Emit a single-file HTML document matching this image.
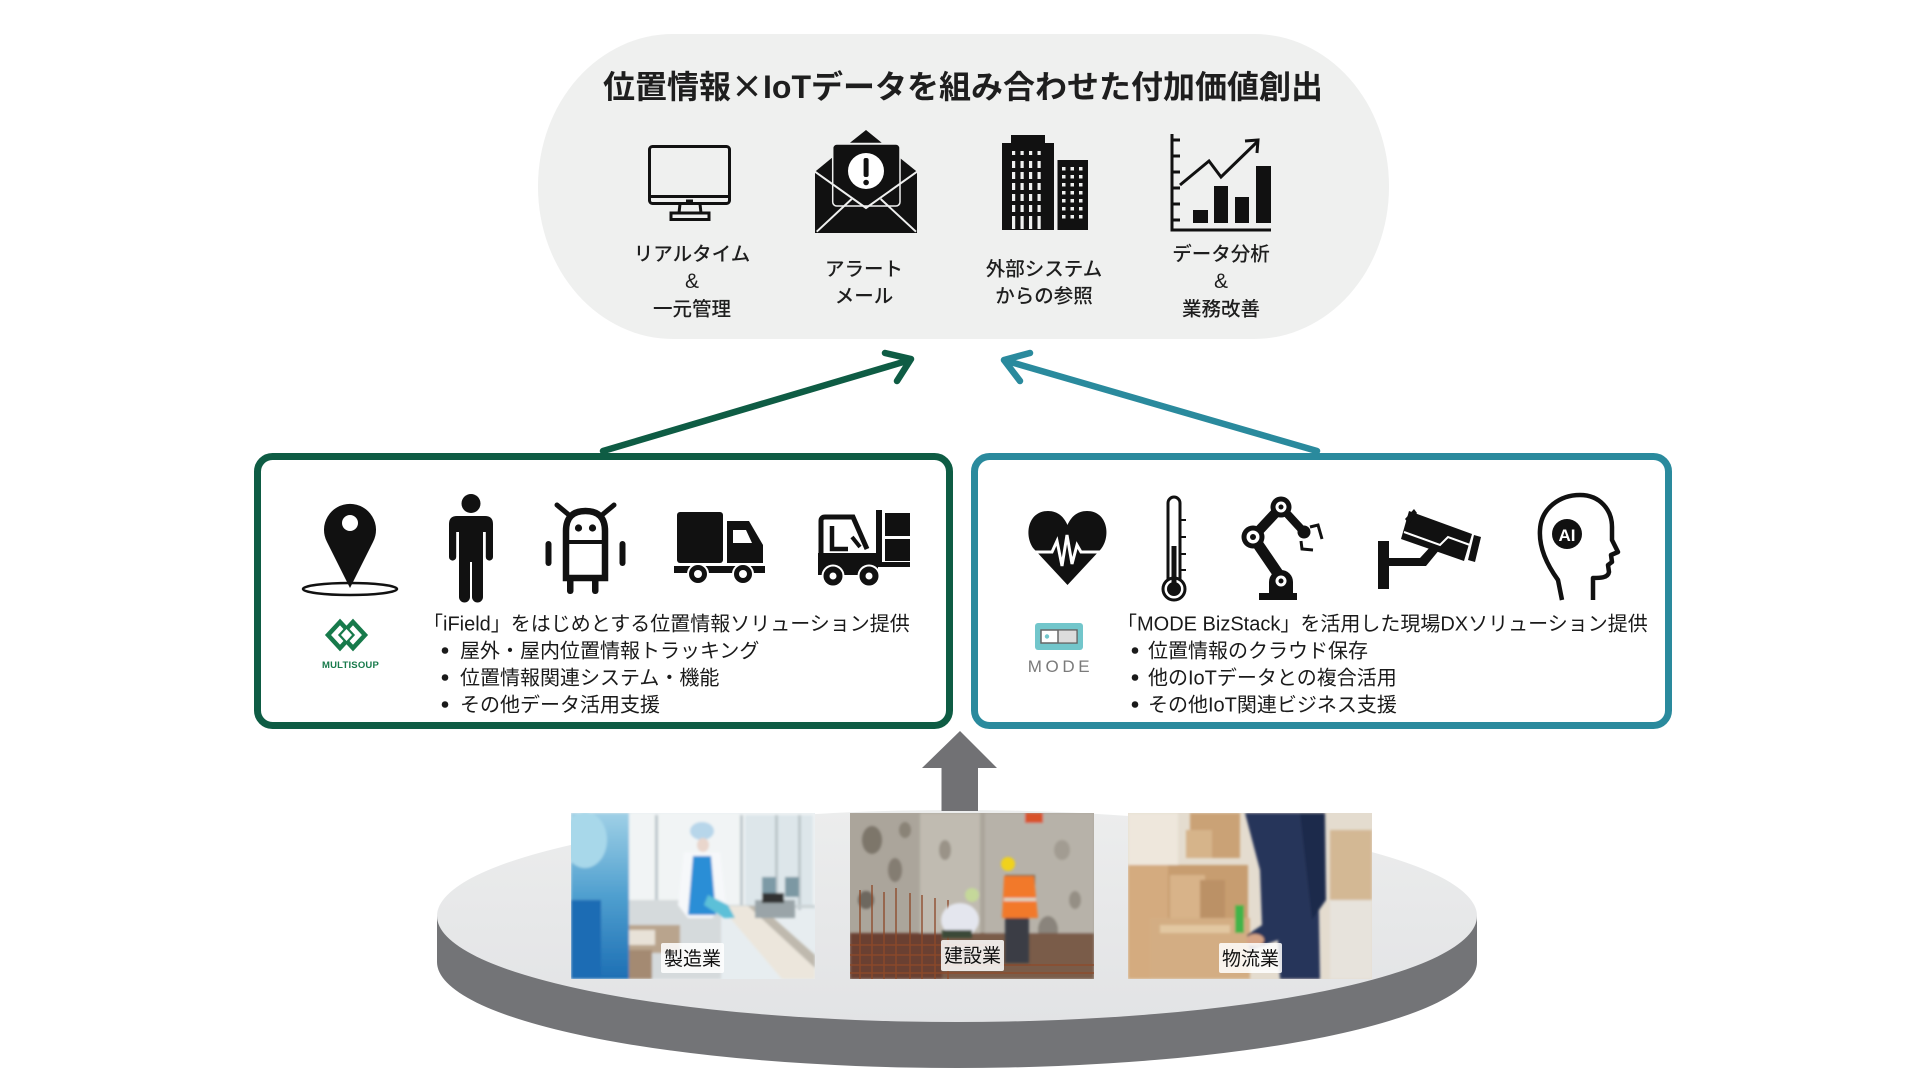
<!DOCTYPE html>
<html><head><meta charset="utf-8">
<style>
html,body{margin:0;padding:0;background:#fff;width:1920px;height:1080px;overflow:hidden;}
svg{display:block;}
text{font-family:"Liberation Sans","Noto Sans CJK JP",sans-serif;}
.cjk{font-family:"Noto Sans CJK JP",sans-serif;}
</style></head><body>
<svg width="1920" height="1080" viewBox="0 0 1920 1080" xmlns="http://www.w3.org/2000/svg">
<defs>
  <filter id="bl" x="-5%" y="-5%" width="110%" height="110%"><feGaussianBlur stdDeviation="1.4"/></filter>
  <clipPath id="c1"><rect x="571" y="813" width="244" height="166"/></clipPath>
  <clipPath id="c2"><rect x="850" y="813" width="244" height="166"/></clipPath>
  <clipPath id="c3"><rect x="1128" y="813" width="244" height="166"/></clipPath>
  <linearGradient id="plat" x1="0" y1="0" x2="0" y2="1">
    <stop offset="0" stop-color="#eceded"/><stop offset="1" stop-color="#e2e3e5"/>
  </linearGradient>
  <linearGradient id="blueF" x1="0" y1="0" x2="0" y2="1">
    <stop offset="0" stop-color="#9fd0e6"/><stop offset="0.5" stop-color="#4f9fcf"/><stop offset="1" stop-color="#1d6fb4"/>
  </linearGradient>
</defs>

<!-- top pill -->
<rect x="538" y="34" width="851" height="305" rx="135" ry="152" fill="#eff0ef"/>
<text x="963" y="98" font-size="32" font-weight="700" fill="#1e1e1e" text-anchor="middle">位置情報<tspan class="cjk">×</tspan>IoTデータを組み合わせた付加価値創出</text>

<!-- monitor -->
<g fill="none" stroke="#111" stroke-width="3">
  <rect x="649.5" y="146.5" width="80" height="57" rx="3"/>
  <line x1="649.5" y1="196.5" x2="729.5" y2="196.5"/>
  <path d="M680,204 L679,213 L701,213 L700,204"/>
  <rect x="671" y="213" width="38" height="6.5"/>
</g>
<rect x="686" y="199.5" width="7" height="2.5" fill="#111"/>

<!-- envelope -->
<polygon points="850,142.7 866,130 881.7,142.7" fill="#111"/>
<polygon points="815,171.7 831.7,158 900,158 917,171.7 917,233 815,233" fill="#111"/>
<rect x="832.7" y="144" width="67.3" height="62" rx="4" fill="#111" stroke="#eff0ef" stroke-width="1.5"/>
<circle cx="866" cy="171" r="18" fill="#fff"/>
<rect x="863.6" y="158" width="5" height="19" rx="2" fill="#111"/>
<circle cx="866.1" cy="182.5" r="2.8" fill="#111"/>
<polyline points="815,171.7 866,208 917,171.7" fill="none" stroke="#eff0ef" stroke-width="2"/>
<line x1="816.7" y1="231.7" x2="851.7" y2="199" stroke="#eff0ef" stroke-width="2"/>
<line x1="916" y1="231.7" x2="880.7" y2="199" stroke="#eff0ef" stroke-width="2"/>

<!-- buildings -->
<rect x="1011" y="135" width="34" height="10" fill="#111"/>
<rect x="1002" y="143" width="52" height="87" fill="#111"/>
<rect x="1057.5" y="160" width="30.5" height="70" fill="#111"/>
<g fill="#eff0ef">
  <g>
    <rect x="1012" y="151" width="3.2" height="4"/><rect x="1020.5" y="151" width="3.2" height="4"/><rect x="1029" y="151" width="3.2" height="4"/><rect x="1037.5" y="151" width="3.2" height="4"/>
    <rect x="1012" y="161" width="3.2" height="7"/><rect x="1020.5" y="161" width="3.2" height="7"/><rect x="1029" y="161" width="3.2" height="7"/><rect x="1037.5" y="161" width="3.2" height="7"/>
    <rect x="1012" y="172" width="3.2" height="7"/><rect x="1020.5" y="172" width="3.2" height="7"/><rect x="1029" y="172" width="3.2" height="7"/><rect x="1037.5" y="172" width="3.2" height="7"/>
    <rect x="1012" y="183" width="3.2" height="7"/><rect x="1020.5" y="183" width="3.2" height="7"/><rect x="1029" y="183" width="3.2" height="7"/><rect x="1037.5" y="183" width="3.2" height="7"/>
    <rect x="1012" y="194" width="3.2" height="7"/><rect x="1020.5" y="194" width="3.2" height="7"/><rect x="1029" y="194" width="3.2" height="7"/><rect x="1037.5" y="194" width="3.2" height="7"/>
    <rect x="1012" y="205" width="3.2" height="7"/><rect x="1020.5" y="205" width="3.2" height="7"/><rect x="1029" y="205" width="3.2" height="7"/><rect x="1037.5" y="205" width="3.2" height="7"/>
    <rect x="1012" y="216" width="3.2" height="13"/><rect x="1020.5" y="216" width="3.2" height="13"/><rect x="1029" y="216" width="3.2" height="13"/><rect x="1037.5" y="216" width="3.2" height="13"/>
  </g>
  <g>
    <rect x="1062" y="167" width="3.5" height="3.5"/><rect x="1070.5" y="167" width="3.5" height="3.5"/><rect x="1079" y="167" width="3.5" height="3.5"/>
    <rect x="1062" y="175" width="3.5" height="3.5"/><rect x="1070.5" y="175" width="3.5" height="3.5"/><rect x="1079" y="175" width="3.5" height="3.5"/>
    <rect x="1062" y="183" width="3.5" height="3.5"/><rect x="1070.5" y="183" width="3.5" height="3.5"/><rect x="1079" y="183" width="3.5" height="3.5"/>
    <rect x="1062" y="191" width="3.5" height="3.5"/><rect x="1070.5" y="191" width="3.5" height="3.5"/><rect x="1079" y="191" width="3.5" height="3.5"/>
    <rect x="1062" y="199" width="3.5" height="3.5"/><rect x="1070.5" y="199" width="3.5" height="3.5"/><rect x="1079" y="199" width="3.5" height="3.5"/>
    <rect x="1062" y="207" width="3.5" height="3.5"/><rect x="1070.5" y="207" width="3.5" height="3.5"/><rect x="1079" y="207" width="3.5" height="3.5"/>
    <rect x="1062" y="215" width="3.5" height="3.5"/><rect x="1070.5" y="215" width="3.5" height="3.5"/><rect x="1079" y="215" width="3.5" height="3.5"/>
  </g>
</g>

<!-- chart -->
<g stroke="#111" fill="none" stroke-width="3">
  <polyline points="1172,134 1172,230 1271,230"/>
  <line x1="1172" y1="140" x2="1180" y2="140"/><line x1="1172" y1="156" x2="1180" y2="156"/>
  <line x1="1172" y1="172" x2="1180" y2="172"/><line x1="1172" y1="188" x2="1180" y2="188"/>
  <line x1="1172" y1="204" x2="1180" y2="204"/><line x1="1172" y1="220" x2="1180" y2="220"/>
  <polyline points="1180,185 1209,161 1221,177 1257,142"/>
  <polyline points="1245,141 1258,140 1257,153"/>
</g>
<g fill="#111">
  <rect x="1193" y="210" width="15" height="13"/>
  <rect x="1214" y="186" width="14" height="37"/>
  <rect x="1235" y="197" width="14" height="26"/>
  <rect x="1256" y="166" width="15" height="57"/>
</g>

<!-- top labels -->
<g font-size="19.5" font-weight="500" fill="#1e1e1e" text-anchor="middle">
  <text x="692" y="260.4">リアルタイム</text>
  <text x="692" y="288" font-size="21">&amp;</text>
  <text x="692" y="315.4">一元管理</text>
  <text x="864" y="275.4">アラート</text>
  <text x="864" y="302.4">メール</text>
  <text x="1044" y="275.4">外部システム</text>
  <text x="1044" y="302.4">からの参照</text>
  <text x="1221" y="260.4">データ分析</text>
  <text x="1221" y="288" font-size="21">&amp;</text>
  <text x="1221" y="315.4">業務改善</text>
</g>

<!-- arrows up -->
<g fill="none" stroke="#0e5c44" stroke-width="6.5" stroke-linecap="round" stroke-linejoin="round">
  <line x1="603" y1="451" x2="910" y2="360"/>
  <polyline points="885,353 911,359 897,381"/>
</g>
<g fill="none" stroke="#2a8a9d" stroke-width="6.5" stroke-linecap="round" stroke-linejoin="round">
  <line x1="1317" y1="451" x2="1007" y2="361"/>
  <polyline points="1030,353 1004,360 1020,381"/>
</g>

<!-- boxes -->
<rect x="257.5" y="456.5" width="692" height="269" rx="15" fill="#fff" stroke="#0e5c44" stroke-width="7"/>
<rect x="974.5" y="456.5" width="694" height="269" rx="15" fill="#fff" stroke="#2a8a9d" stroke-width="7"/>

<!-- green icons -->
<ellipse cx="350" cy="589" rx="47" ry="6" fill="none" stroke="#111" stroke-width="2.5"/>
<path d="M350,588 L327,542 A26,26 0 1 1 373,542 Z" fill="#111"/>
<circle cx="350" cy="523" r="8" fill="#fff"/>

<circle cx="471" cy="503.5" r="9.5" fill="#111"/>
<path d="M449,524 Q449,516 457,516 L485,516 Q493,516 493,524 L493,557 a3.6,3.6 0 0 1 -7.2,0 L485.8,532 L483,532 L483,597 a5.5,5.5 0 0 1 -11,0 L472,562 L470,562 L470,597 a5.5,5.5 0 0 1 -11,0 L459,532 L456.2,532 L456.2,557 a3.6,3.6 0 0 1 -7.2,0 Z" fill="#111"/>

<g stroke="#111" stroke-linecap="round">
  <line x1="557" y1="505" x2="569" y2="515" stroke-width="5"/>
  <line x1="614" y1="505" x2="602" y2="515" stroke-width="5"/>
</g>
<path d="M566,578 L566,531 Q566,511 585.5,511 Q605,511 605,531 L605,578 Z" fill="none" stroke="#111" stroke-width="6.5"/>
<line x1="566" y1="542" x2="605" y2="542" stroke="#111" stroke-width="4"/>
<circle cx="578.5" cy="528" r="3.6" fill="#111"/><circle cx="592.5" cy="528" r="3.6" fill="#111"/>
<rect x="545.5" y="541" width="6" height="25" rx="3" fill="#111"/>
<rect x="619.5" y="541" width="6" height="25" rx="3" fill="#111"/>
<rect x="567" y="578" width="6.5" height="16" rx="3" fill="#111"/>
<rect x="592" y="578" width="6.5" height="16" rx="3" fill="#111"/>

<rect x="677" y="512" width="46" height="51" rx="3" fill="#111"/>
<path d="M727,521 L749,521 L763,545 L763,563 L727,563 Z" fill="#111"/>
<path d="M733,530 L746,530 L752,543 L733,543 Z" fill="#fff"/>
<rect x="674" y="566" width="91" height="7" fill="#111"/>
<circle cx="698" cy="574" r="10" fill="#111" stroke="#fff" stroke-width="2"/><circle cx="698" cy="574" r="4" fill="#fff"/>
<circle cx="743" cy="574" r="10" fill="#111" stroke="#fff" stroke-width="2"/><circle cx="743" cy="574" r="4" fill="#fff"/>

<rect x="885" y="513" width="25" height="23" fill="#111"/>
<rect x="885" y="539" width="25" height="22" fill="#111"/>
<rect x="876" y="510" width="6" height="57" fill="#111"/>
<rect x="876" y="562" width="34" height="5" fill="#111"/>
<path d="M821,555 L821,521 Q821,517 825,517 L853,517 L867,549" fill="none" stroke="#111" stroke-width="5"/>
<path d="M832,526 L832,549 L848,549" fill="none" stroke="#111" stroke-width="4.5"/>
<line x1="852" y1="537" x2="860" y2="547" stroke="#111" stroke-width="4"/>
<rect x="818" y="553" width="60" height="22" fill="#111"/>
<circle cx="833" cy="576" r="10.5" fill="#111" stroke="#fff" stroke-width="2"/><circle cx="833" cy="576" r="3.5" fill="#fff"/>
<circle cx="869" cy="576" r="10.5" fill="#111" stroke="#fff" stroke-width="2"/><circle cx="869" cy="576" r="3.5" fill="#fff"/>

<!-- multisoup logo -->
<g fill="none" stroke="#177a4b" stroke-width="4.5" stroke-linejoin="miter">
  <path d="M340,622 L328,635 L340,648 L352,635 Z"/>
  <path d="M353,622 L365,635 L353,648 L341,635 Z"/>
</g>
<path d="M346.5,629 L352,635 L346.5,641 L341,635 Z" fill="#fff"/>
<text x="350.5" y="668" font-size="9.5" font-weight="700" fill="#177a4b" text-anchor="middle" letter-spacing="0.2">MULTISOUP</text>

<!-- green text -->
<g font-size="20" fill="#1a1a1a">
  <text x="423" y="630.6">「iField」をはじめとする位置情報ソリューション提供</text>
  <text x="460" y="657.6">屋外・屋内位置情報トラッキング</text>
  <text x="460" y="684.6">位置情報関連システム・機能</text>
  <text x="460" y="711.6">その他データ活用支援</text>
</g>
<circle cx="445" cy="650.5" r="3.3" fill="#1a1a1a"/>
<circle cx="445" cy="677.5" r="3.3" fill="#1a1a1a"/>
<circle cx="445" cy="704.5" r="3.3" fill="#1a1a1a"/>

<!-- teal icons -->
<path d="M1067.5,585 L1034,549 C1024,537 1027,511 1048,511 C1058,511 1064,517 1067.5,525 C1071,517 1077,511 1087,511 C1108,511 1111,537 1101,549 Z" fill="#111"/>
<polyline points="1033,552 1052,552 1057,541 1062,566 1067,535 1072,564 1077,545 1081,552 1102,552" fill="none" stroke="#fff" stroke-width="3" stroke-linejoin="miter"/>

<path d="M1168,580 L1168,503 A6,6 0 0 1 1180,503 L1180,580" fill="none" stroke="#111" stroke-width="3"/>
<circle cx="1174" cy="589" r="11" fill="#fff" stroke="#111" stroke-width="3"/>
<circle cx="1174" cy="589" r="7" fill="#111"/>
<rect x="1171.5" y="546" width="5" height="40" fill="#111"/>
<g stroke="#111" stroke-width="2"><line x1="1180" y1="520" x2="1186" y2="520"/><line x1="1180" y1="537" x2="1186" y2="537"/><line x1="1180" y1="554" x2="1186" y2="554"/><line x1="1180" y1="570" x2="1186" y2="570"/></g>

<rect x="1259" y="593" width="38" height="7" fill="#111"/>
<path d="M1269,593 L1269,582 A12,12 0 0 1 1293,582 L1293,593 Z" fill="#111"/>
<line x1="1281" y1="578" x2="1253" y2="537" stroke="#111" stroke-width="11"/>
<line x1="1253" y1="537" x2="1281" y2="507" stroke="#111" stroke-width="10"/>
<line x1="1281" y1="507" x2="1303" y2="531" stroke="#111" stroke-width="8"/>
<circle cx="1281" cy="581" r="5.5" fill="#fff"/><circle cx="1281" cy="581" r="2.5" fill="#111"/>
<circle cx="1253" cy="537" r="11.5" fill="#111"/><circle cx="1253" cy="537" r="6.5" fill="#fff"/><circle cx="1253" cy="537" r="3" fill="#111"/>
<circle cx="1281" cy="507" r="10.5" fill="#111"/><circle cx="1281" cy="507" r="5.5" fill="#fff"/><circle cx="1281" cy="507" r="2.5" fill="#111"/>
<circle cx="1304" cy="532" r="6.5" fill="#111"/>
<polyline points="1310,527 1318,525 1322,539" fill="none" stroke="#111" stroke-width="3"/>
<polyline points="1301,541 1302,549 1313,550" fill="none" stroke="#111" stroke-width="3"/>

<rect x="1378" y="541" width="11" height="48" fill="#111"/>
<path d="M1389,558 L1420,558 L1432,545 L1440,549 L1426,566 L1389,566 Z" fill="#111"/>
<polygon points="1409,511 1472,534 1464,561 1401,539" fill="#111"/>
<polygon points="1405,519 1414,509 1417,513 1409,524" fill="#111"/>
<polyline points="1404,532 1440,545 1448,537 1470,545" fill="none" stroke="#fff" stroke-width="2"/>
<polygon points="1474,535 1481,537 1475,562 1468,560" fill="#111"/>

<path d="M1562,600 L1558,580 C1545,562 1539,545 1540,530 C1541,508 1560,495 1580,495 C1600,495 1612,510 1612,527 L1612,540 L1618,552 L1611,555 L1612,562 L1608,565 L1609,572 C1608,578 1600,578 1593,578 L1593,600" fill="none" stroke="#111" stroke-width="4.5" stroke-linejoin="round"/>
<circle cx="1567" cy="534" r="15" fill="#111"/>
<text x="1567" y="541" font-size="17" font-weight="700" fill="#fff" text-anchor="middle">AI</text>

<!-- MODE logo -->
<rect x="1035" y="623" width="48" height="27" rx="3" fill="#72c6cb"/>
<rect x="1041" y="630" width="36" height="13" fill="#fff" stroke="#666" stroke-width="1.5"/>
<rect x="1058" y="630.8" width="18.2" height="11.4" fill="#dcdcdc"/>
<line x1="1058" y1="630" x2="1058" y2="643" stroke="#666" stroke-width="1.5"/>
<circle cx="1047" cy="636.5" r="2.2" fill="#72c6cb"/>
<text x="1060.5" y="672" font-size="17" fill="#7a7a7a" text-anchor="middle" letter-spacing="3.6">MODE</text>

<!-- teal text -->
<g font-size="20" fill="#1a1a1a">
  <text x="1117" y="630.6">「MODE BizStack」を活用した現場DXソリューション提供</text>
  <text x="1148" y="657.6">位置情報のクラウド保存</text>
  <text x="1148" y="684.6">他のIoTデータとの複合活用</text>
  <text x="1148" y="711.6">その他IoT関連ビジネス支援</text>
</g>
<circle cx="1135" cy="650.5" r="3.3" fill="#1a1a1a"/>
<circle cx="1135" cy="677.5" r="3.3" fill="#1a1a1a"/>
<circle cx="1135" cy="704.5" r="3.3" fill="#1a1a1a"/>

<!-- platform -->
<path d="M437,916 L437,962 A520,106 0 0 0 1477,962 L1477,916 Z" fill="#737477"/>
<ellipse cx="957" cy="916" rx="520" ry="106" fill="url(#plat)"/>

<!-- up arrow -->
<polygon points="960,731 997,768 978,768 978,811 941.5,811 941.5,768 922,768" fill="#717174"/>

<!-- photo 1: manufacturing -->
<g clip-path="url(#c1)">
  <rect x="571" y="813" width="244" height="166" fill="#e7edf0"/>
  <g filter="url(#bl)">
    <rect x="620" y="813" width="195" height="95" fill="#f1f4f5"/>
    <rect x="745" y="815" width="68" height="90" fill="#dde6ea"/>
    <rect x="655" y="815" width="3" height="95" fill="#bcc6ca"/>
    <rect x="740" y="815" width="3" height="95" fill="#bcc6ca"/>
    <rect x="775" y="815" width="3" height="95" fill="#bcc6ca"/>
    <rect x="798" y="815" width="3" height="95" fill="#bcc6ca"/>
    <rect x="620" y="905" width="195" height="3" fill="#c9d1d4"/>
    <rect x="762" y="877" width="14" height="20" fill="#7d9aa6"/>
    <rect x="785" y="877" width="14" height="20" fill="#7b98a3"/>
    <rect x="571" y="900" width="150" height="79" fill="#d5dadc"/>
    <rect x="600" y="925" width="80" height="28" fill="#b9a48d"/>
    <rect x="602" y="950" width="50" height="29" fill="#a48a72"/>
    <rect x="615" y="930" width="40" height="15" fill="#e8e2d8"/>
    <polygon points="720,906 748,906 815,968 815,979 782,979" fill="#ece6dc"/>
    <polygon points="748,906 760,906 815,955 815,968" fill="#bfb9ae"/>
    <rect x="755" y="900" width="40" height="18" fill="#9aa4a8"/>
    <rect x="762" y="893" width="22" height="10" fill="#333"/>
    <ellipse cx="702" cy="831" rx="12" ry="9" fill="#b7d6ea"/>
    <ellipse cx="703" cy="845" rx="6" ry="7" fill="#e9d6cc"/>
    <polygon points="684,852 720,852 726,905 712,918 688,918 678,905" fill="#f6f8fa"/>
    <polygon points="693,856 711,856 716,915 688,915" fill="#2a8ed6"/>
    <polygon points="708,895 728,905 735,918 724,918 704,905" fill="#5cc0d8"/>
    <rect x="571" y="813" width="58" height="166" fill="url(#blueF)"/>
    <ellipse cx="585" cy="840" rx="22" ry="28" fill="#a8d8ea"/>
    <rect x="571" y="900" width="30" height="79" fill="#1c6cb4"/>
  </g>
</g>

<!-- photo 2: construction -->
<g clip-path="url(#c2)">
  <rect x="850" y="813" width="244" height="166" fill="#aba59b"/>
  <g filter="url(#bl)">
    <rect x="920" y="813" width="60" height="130" fill="#c0bbb1"/>
    <rect x="985" y="813" width="109" height="140" fill="#b7b2a9"/>
    <ellipse cx="872" cy="840" rx="10" ry="14" fill="#7d766b"/>
    <ellipse cx="895" cy="870" rx="7" ry="12" fill="#847d72"/>
    <ellipse cx="866" cy="900" rx="8" ry="9" fill="#6e675e"/>
    <ellipse cx="905" cy="830" rx="6" ry="8" fill="#8a8377"/>
    <ellipse cx="945" cy="850" rx="6" ry="10" fill="#9a9388"/>
    <ellipse cx="1062" cy="850" rx="8" ry="10" fill="#a29c92"/>
    <ellipse cx="1075" cy="900" rx="6" ry="9" fill="#958f85"/>
    <ellipse cx="1048" cy="930" rx="10" ry="14" fill="#8a847b"/>
    <rect x="1025" y="813" width="18" height="10" fill="#d9532a"/>
    <rect x="850" y="933" width="244" height="46" fill="#7a5b48"/>
    <rect x="850" y="933" width="92" height="46" fill="#6a4030"/>
  </g>
  <g stroke="#8e4a2a" stroke-width="1.5" opacity="0.9">
    <line x1="860" y1="890" x2="860" y2="979"/><line x1="872" y1="885" x2="872" y2="979"/>
    <line x1="884" y1="892" x2="884" y2="979"/><line x1="896" y1="888" x2="896" y2="979"/>
    <line x1="910" y1="893" x2="910" y2="979"/><line x1="922" y1="895" x2="922" y2="979"/>
    <line x1="935" y1="898" x2="935" y2="979"/><line x1="948" y1="900" x2="948" y2="979"/>
    <line x1="850" y1="945" x2="990" y2="945"/><line x1="850" y1="955" x2="1000" y2="955"/>
    <line x1="850" y1="965" x2="1094" y2="965"/><line x1="850" y1="973" x2="1094" y2="973"/>
  </g>
  <g filter="url(#bl)">
    <ellipse cx="960" cy="920" rx="19" ry="17" fill="#e4e6ee"/>
    <rect x="942" y="930" width="30" height="8" fill="#3b4a38"/>
    <circle cx="972" cy="895" r="7" fill="#c5d89a"/>
    <rect x="1005" y="875" width="30" height="10" fill="#56604a"/>
    <polygon points="1004,876 1034,876 1038,918 1002,918" fill="#f2792b"/>
    <rect x="1004" y="898" width="32" height="3" fill="#d9d9c8"/>
    <circle cx="1008" cy="864" r="7" fill="#f0d21c"/>
    <rect x="1005" y="918" width="24" height="45" fill="#3a3d45"/>
  </g>
</g>

<!-- photo 3: logistics -->
<g clip-path="url(#c3)">
  <rect x="1128" y="813" width="244" height="166" fill="#e4dccf"/>
  <g filter="url(#bl)">
    <rect x="1128" y="813" width="50" height="60" fill="#eee7dc"/>
    <rect x="1190" y="813" width="50" height="45" fill="#caa276"/>
    <rect x="1186" y="830" width="26" height="28" fill="#d6b48a"/>
    <rect x="1128" y="865" width="120" height="114" fill="#c79d70"/>
    <rect x="1128" y="865" width="40" height="114" fill="#d4ab7f"/>
    <rect x="1170" y="875" width="35" height="70" fill="#d8b389"/>
    <rect x="1200" y="880" width="25" height="55" fill="#bb9166"/>
    <rect x="1150" y="918" width="100" height="61" fill="#d3ad83"/>
    <rect x="1160" y="925" width="70" height="8" fill="#e2c7a1"/>
    <rect x="1330" y="830" width="42" height="70" fill="#d3b894"/>
    <rect x="1330" y="900" width="42" height="79" fill="#e7e3dc"/>
    <rect x="1235" y="905" width="9" height="28" fill="#3fb449"/>
    <polygon points="1245,813 1308,813 1318,860 1320,979 1280,979 1278,940 1250,950 1247,935 1262,925 1260,870" fill="#27345a"/>
    <polygon points="1300,813 1325,813 1326,900 1312,920" fill="#1f2b4c"/>
    <ellipse cx="1255" cy="940" rx="9" ry="6" fill="#d6a486"/>
  </g>
</g>

<!-- photo labels -->
<rect x="661" y="943" width="63" height="30" rx="2" fill="#fff" opacity="0.85"/>
<rect x="941" y="940" width="63" height="31" rx="2" fill="#fff" opacity="0.85"/>
<rect x="1219" y="943" width="63" height="30" rx="2" fill="#fff" opacity="0.85"/>
<g font-size="19" fill="#111" text-anchor="middle">
  <text x="692.5" y="965">製造業</text>
  <text x="972.5" y="962">建設業</text>
  <text x="1250.5" y="965">物流業</text>
</g>
</svg>
</body></html>
